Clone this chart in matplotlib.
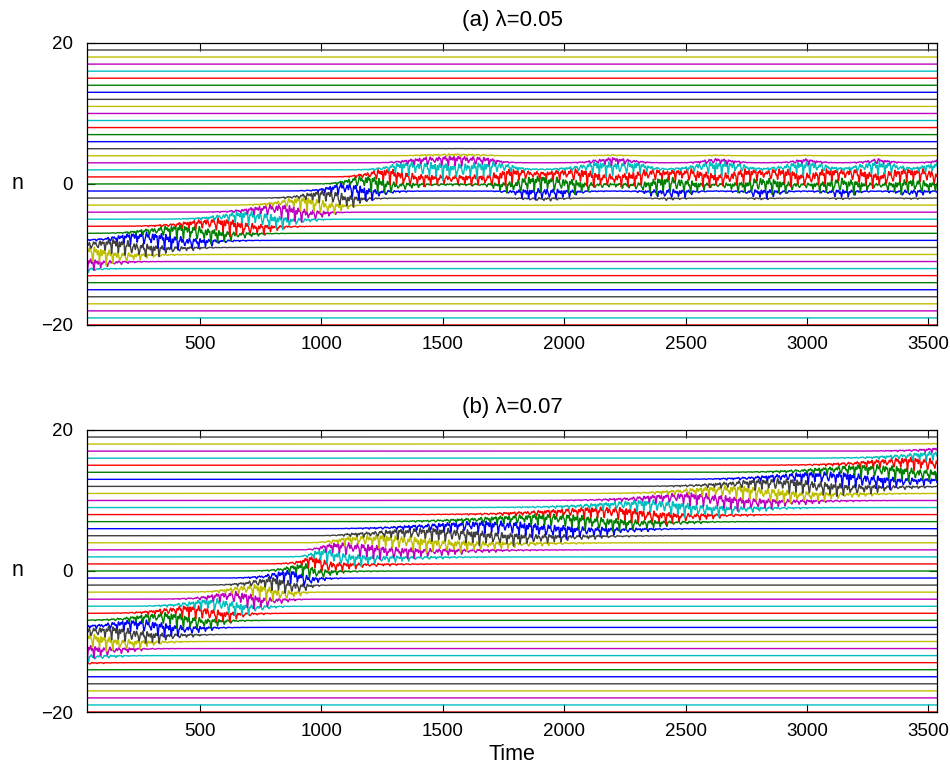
import numpy as np
import matplotlib
matplotlib.use("Agg")
from matplotlib import pyplot as plt

plt.rcParams['font.family'] = ['Liberation Sans', 'DejaVu Sans']

# lattice sites drawn as horizontal traces, n = -20 .. 20
sites = np.arange(-20, 21)
# matlab colour order b g r c m y k, n = -1 is blue
site_colors = ['#0000ff', '#008000', '#ff0000', '#00bfbf', '#bf00bf', '#bfbf00', '#404040']

titles = ['(a) \u03bb=0.05', '(b) \u03bb=0.07']
xticks = [500, 1000, 1500, 2000, 2500, 3000, 3500]
yticks = [-20, 0, 20]
ytick_labels = ['\u221220', '0', '20']
t_start, t_end = 35, 3535

# packet centre (time, site)
a_time = [35, 250, 500, 760, 1000, 1150, 1250, 1330, 1420, 1550, 1680, 1760, 1850, 1920,
          2040, 2120, 2200, 2300, 2370, 2420, 2500, 2570, 2630, 2720, 2780, 2820, 2900,
          2950, 2990, 3060, 3110, 3150, 3210, 3250, 3290, 3360, 3410, 3440, 3500, 3535]
a_centre = [-10.4, -8.6, -7.0, -5.0, -2.8, -0.8, 0.3, 1.2, 1.8, 2.1, 1.8, 0.9, -0.1, -0.3,
            0.4, 1.3, 1.8, 1.2, 0.3, -0.1, 0.3, 1.2, 1.7, 1.0, 0.2, 0.0, 0.6,
            1.2, 1.6, 0.9, 0.3, 0.1, 0.7, 1.2, 1.6, 0.9, 0.3, 0.2, 0.8, 1.3]
b_time = [35, 250, 500, 750, 900, 960, 1000, 1100, 1300, 1500, 1750, 2000, 2250, 2500,
          2750, 3000, 3250, 3535]
b_centre = [-10.5, -8.6, -6.3, -3.3, -1.2, 0.2, 1.2, 2.6, 3.7, 4.6, 5.6, 6.6, 7.8, 9.3,
            10.7, 12.0, 13.3, 15.0]

packet_width = [1.45, 1.9]
packet_height = [1.45, 1.3]
swing_period = 28.0


def traces(key_t, key_c, width, height):
    t = np.arange(t_start, t_end + 1, 1.0)
    c = np.interp(t, key_t, key_c)
    ph = 2 * np.pi * t / swing_period
    out = []
    for n in sites:
        d = n - c
        env = height * np.exp(-(d / width) ** 2)
        dip = np.clip(np.cos(ph + 1.3 * n), 0, None) ** 4
        swing = (0.45 * np.tanh(d / 0.8) + 0.3
                 - 0.95 * dip
                 + 0.22 * np.cos(3.17 * ph + 2.1 * n)
                 + 0.15 * np.sin(1.41 * ph + 0.7 * n))
        out.append((t, n + env * swing))
    return out


fig = plt.figure(figsize=(9.5, 7.67), dpi=100)
boxes = [[0.0916, 0.5763, 0.8947, 0.3677], [0.0916, 0.0717, 0.8947, 0.3677]]
data = [(a_time, a_centre), (b_time, b_centre)]

for k in range(2):
    ax = fig.add_axes(boxes[k])
    lines = traces(data[k][0], data[k][1], packet_width[k], packet_height[k])
    for n, (t, y) in zip(sites, lines):
        ax.plot(t, y, color=site_colors[(n + 1) % 7], lw=1.0)
    ax.set_xlim(t_start, t_end)
    ax.set_ylim(-20, 20)
    ax.set_xticks(xticks)
    ax.set_yticks(yticks)
    ax.set_yticklabels(ytick_labels)
    ax.tick_params(direction='in', top=True, right=True, labelsize=13.5, length=6, width=0.8)
    ax.tick_params(axis='x', pad=8)
    ax.tick_params(axis='y', pad=10)
    for s in ax.spines.values():
        s.set_linewidth(0.9)
    ax.set_title(titles[k], fontsize=16, pad=12)
    ax.set_ylabel('n', fontsize=15.5, rotation=0, ha='center', va='center')
    ax.yaxis.set_label_coords(-0.082, 0.5)
    if k == 1:
        ax.set_xlabel('Time', fontsize=15.5, va='top')
        ax.xaxis.set_label_coords(0.5, -0.112)

fig.savefig('out.png', dpi=100)
